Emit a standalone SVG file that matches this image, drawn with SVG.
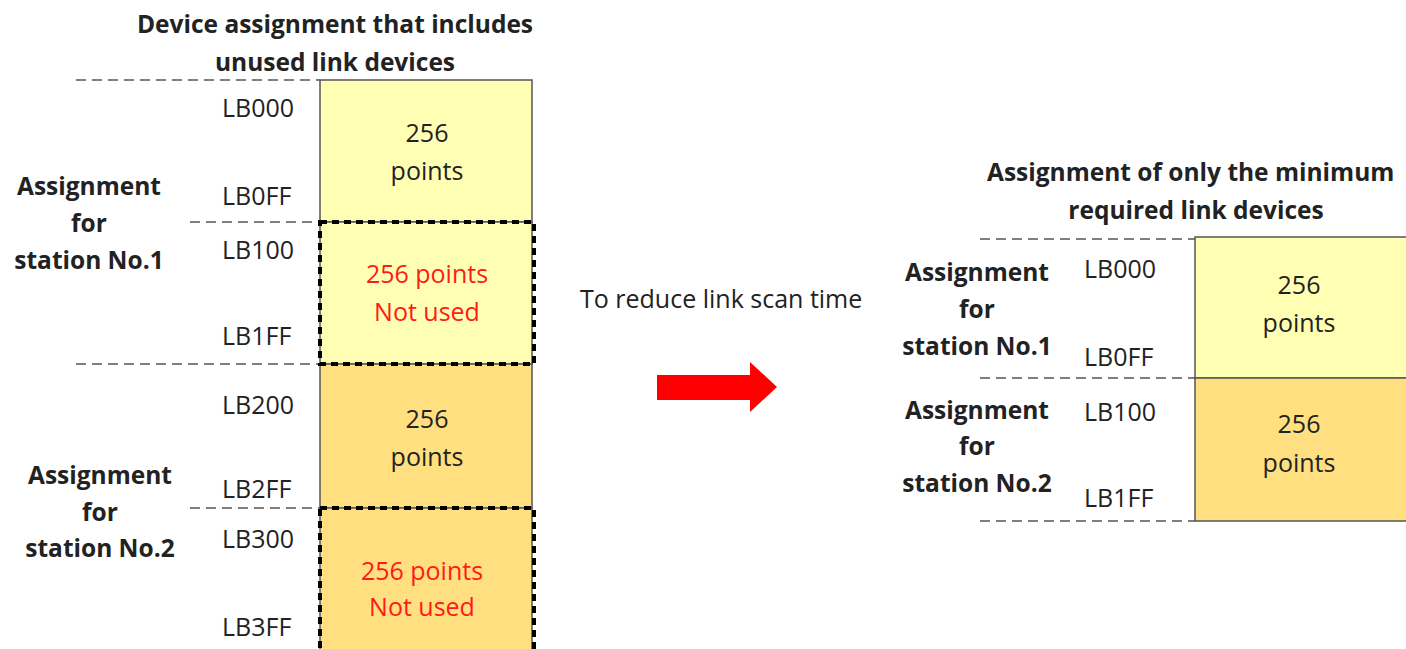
<svg xmlns="http://www.w3.org/2000/svg" width="1406" height="649" viewBox="0 0 1406 649">
<style>
text{font-family:"Open Sans","Noto Sans","DejaVu Sans",sans-serif;fill:#222;}
.b{font-weight:bold;font-size:24.5px;}
.t{font-size:25px;}
.m{text-anchor:middle;}
.r{fill:#ff1a1a;}
.dash{stroke:#555;stroke-width:1.5;stroke-dasharray:10 6;fill:none;}
.dot{stroke:#000;stroke-width:4;stroke-dasharray:7 5;fill:none;}
.y1{fill:#ffffb3;stroke:#555;stroke-width:1.5;}
.y2{fill:#ffdf80;stroke:#555;stroke-width:1.5;}
</style>
<g id="left-title">
<text class="b m" x="335" y="33">Device assignment that includes</text>
<text class="b m" x="335" y="71">unused link devices</text>
</g>
<g id="left-st1">
<text class="b m" x="89" y="195">Assignment</text>
<text class="b m" x="89" y="232">for</text>
<text class="b m" x="89" y="269">station No.1</text>
</g>
<g id="left-st2">
<text class="b m" x="100" y="484">Assignment</text>
<text class="b m" x="100" y="521">for</text>
<text class="b m" x="100" y="557">station No.2</text>
</g>
<g id="left-blocks">
<rect class="y1" x="320" y="80" width="212" height="142"/>
<rect class="y1" x="320" y="222" width="212" height="142"/>
<rect class="y2" x="320" y="364" width="212" height="144"/>
<rect class="y2" x="320" y="508" width="212" height="150"/>
<text class="t m" x="427" y="142">256</text>
<text class="t m" x="427" y="180">points</text>
<text class="t m r" x="427" y="283">256 points</text>
<text class="t m r" x="427" y="321">Not used</text>
<text class="t m" x="427" y="428">256</text>
<text class="t m" x="427" y="466">points</text>
<text class="t m r" x="422" y="580">256 points</text>
<text class="t m r" x="422" y="616">Not used</text>
</g>
<g id="left-labels">
<text class="t" x="222" y="117">LB000</text>
<text class="t" x="222" y="205">LB0FF</text>
<text class="t" x="222" y="259">LB100</text>
<text class="t" x="222" y="345">LB1FF</text>
<text class="t" x="222" y="414">LB200</text>
<text class="t" x="222" y="498">LB2FF</text>
<text class="t" x="222" y="548">LB300</text>
<text class="t" x="222" y="636">LB3FF</text>
</g>
<g id="connectors">
<line class="dash" x1="76" y1="80" x2="320" y2="80"/>
<line class="dash" x1="190" y1="222" x2="320" y2="222"/>
<line class="dash" x1="76" y1="364" x2="320" y2="364"/>
<line class="dash" x1="190" y1="508" x2="320" y2="508"/>
<rect class="dot" x="320" y="222" width="214" height="142"/>
<rect class="dot" x="320" y="508" width="214" height="150"/>
<line class="dash" x1="980" y1="239" x2="1195" y2="239"/>
<line class="dash" x1="980" y1="378" x2="1195" y2="378"/>
<line class="dash" x1="980" y1="521" x2="1195" y2="521"/>
<polygon points="657,375 750,375 750,362 777,387 750,412 750,400 657,400" fill="#ff0000"/>
</g>
<g id="mid-label">
<text class="t" x="580" y="308">To reduce link scan time</text>
</g>
<g id="right-title">
<text class="b" x="987" y="181">Assignment of only the minimum</text>
<text class="b m" x="1196" y="219">required link devices</text>
</g>
<g id="right-st1">
<text class="b m" x="977" y="281">Assignment</text>
<text class="b m" x="977" y="318">for</text>
<text class="b m" x="977" y="355">station No.1</text>
</g>
<g id="right-st2">
<text class="b m" x="977" y="419">Assignment</text>
<text class="b m" x="977" y="455">for</text>
<text class="b m" x="977" y="492">station No.2</text>
</g>
<g id="right-blocks">
<rect class="y1" x="1195" y="237" width="220" height="141"/>
<rect class="y2" x="1195" y="378" width="220" height="143"/>
<text class="t m" x="1299" y="294">256</text>
<text class="t m" x="1299" y="332">points</text>
<text class="t m" x="1299" y="433">256</text>
<text class="t m" x="1299" y="472">points</text>
<text class="t" x="1084" y="278">LB000</text>
<text class="t" x="1084" y="366">LB0FF</text>
<text class="t" x="1084" y="421">LB100</text>
<text class="t" x="1084" y="507">LB1FF</text>
</g>
</svg>
